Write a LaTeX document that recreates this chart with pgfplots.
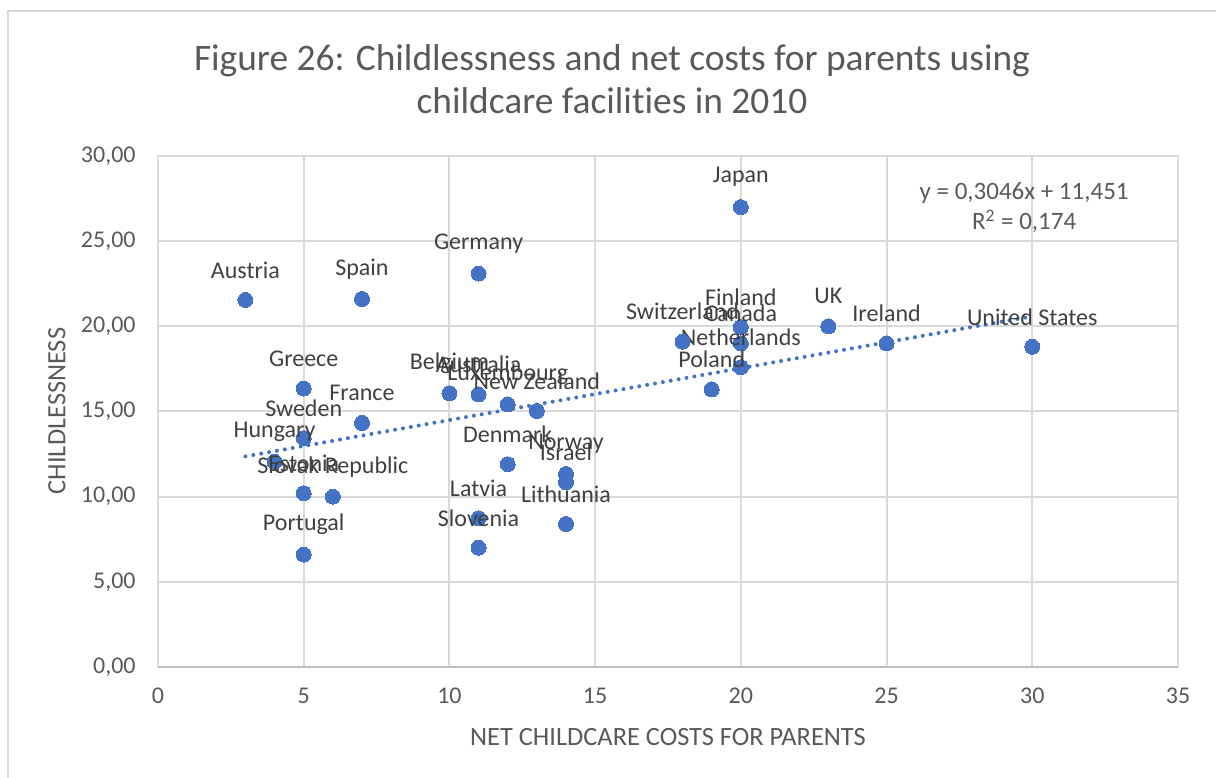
\documentclass[border=0pt]{standalone}
\usepackage{fontspec}
\setmainfont[Ligatures={NoCommon}]{Carlito}
\usepackage{pgfplots}
\pgfplotsset{compat=1.18}
\definecolor{dotblue}{HTML}{4472C4}
\definecolor{gridgray}{HTML}{D9D9D9}
\definecolor{axisgray}{HTML}{BFBFBF}
\definecolor{tickgray}{HTML}{595959}
\definecolor{labelgray}{HTML}{404040}
\begin{document}
\begin{tikzpicture}
\useasboundingbox (0,0) rectangle (608bp,389bp);
\draw[gridgray, line width=1bp] (4bp,-10bp) -- (4bp,383.5bp) -- (620bp,383.5bp);
\node[align=center, text=tickgray, font=\fontsize{18.7bp}{21.5bp}\selectfont, inner sep=0pt] at (306bp,349.5bp)
  {Figure 26: Childlessness and net costs for parents using\\childcare facilities in 2010};
\node[text=tickgray, font=\fontsize{13.2bp}{15bp}\selectfont, inner sep=0pt] at (334bp,20.5bp) {NET CHILDCARE COSTS FOR PARENTS};
\node[text=tickgray, font=\fontsize{13.2bp}{15bp}\selectfont, inner sep=0pt, rotate=90] at (28.5bp,183.5bp) {CHILDLESSNESS};
\begin{axis}[
  at={(79bp,55.5bp)}, anchor=south west,
  scale only axis, width=510bp, height=255.5bp,
  xmin=0, xmax=35, ymin=0, ymax=30,
  xtick={0,5,10,15,20,25,30,35},
  ytick={0,5,10,15,20,25,30},
  grid=major,
  grid style={draw=gridgray, line width=1bp},
  axis line style={draw=none},
  tick style={draw=none},
  /pgf/number format/assume math mode=true,
  ticklabel style={font=\fontsize{12bp}{14bp}\selectfont, text=tickgray, inner sep=0pt},
  xticklabel style={anchor=north, yshift=-10.5bp},
  yticklabel style={anchor=east, xshift=-11bp, /pgf/number format/.cd, fixed, fixed zerofill, precision=2, use comma},
  clip=false,
]
\addplot[axisgray, line width=1bp, forget plot] coordinates {(0,0) (35,0)};
\addplot[dotblue, line width=2bp, line cap=round, dash pattern=on 0bp off 4bp, forget plot] coordinates {(3,12.365) (30,20.589)};
\addplot[dotblue, only marks, mark=*, mark size=3.75bp, mark options={fill=dotblue, draw=dotblue, line width=0pt},
  nodes near coords, point meta=explicit symbolic,
  nodes near coords style={font=\fontsize{12bp}{14bp}\selectfont, text=labelgray, anchor=center, yshift=15bp, inner sep=0pt}]
  table[x=x, y=y, meta=label, col sep=comma] {
x,y,label
3,21.55,Austria
7,21.6,Spain
11,23.1,Germany
20,27.0,Japan
23,20.0,UK
25,19.0,Ireland
30,18.8,United States
20,19.95,Finland
20,19.0,Canada
20,17.6,Netherlands
18,19.1,Switzerland
19,16.3,Poland
5,16.35,Greece
10,16.07,Belgium
11,16.0,Australia
12,15.42,Luxembourg
13,15.03,New Zealand
7,14.33,France
5,13.43,Sweden
4,12.05,Hungary
5,10.2,Estonia
6,10.0,Slovak Republic
5,6.6,Portugal
12,11.9,Denmark
14,11.33,Norway
14,10.85,Israel
11,8.73,Latvia
11,7.0,Slovenia
14,8.4,Lithuania
};
\node[align=center, text=tickgray, font=\fontsize{12.5bp}{15bp}\selectfont, inner sep=0pt] at (axis cs:29.72,26.95)
  {y = 0,3046x + 11,451\\R\textsuperscript{2} = 0,174};
\end{axis}
\end{tikzpicture}
\end{document}
